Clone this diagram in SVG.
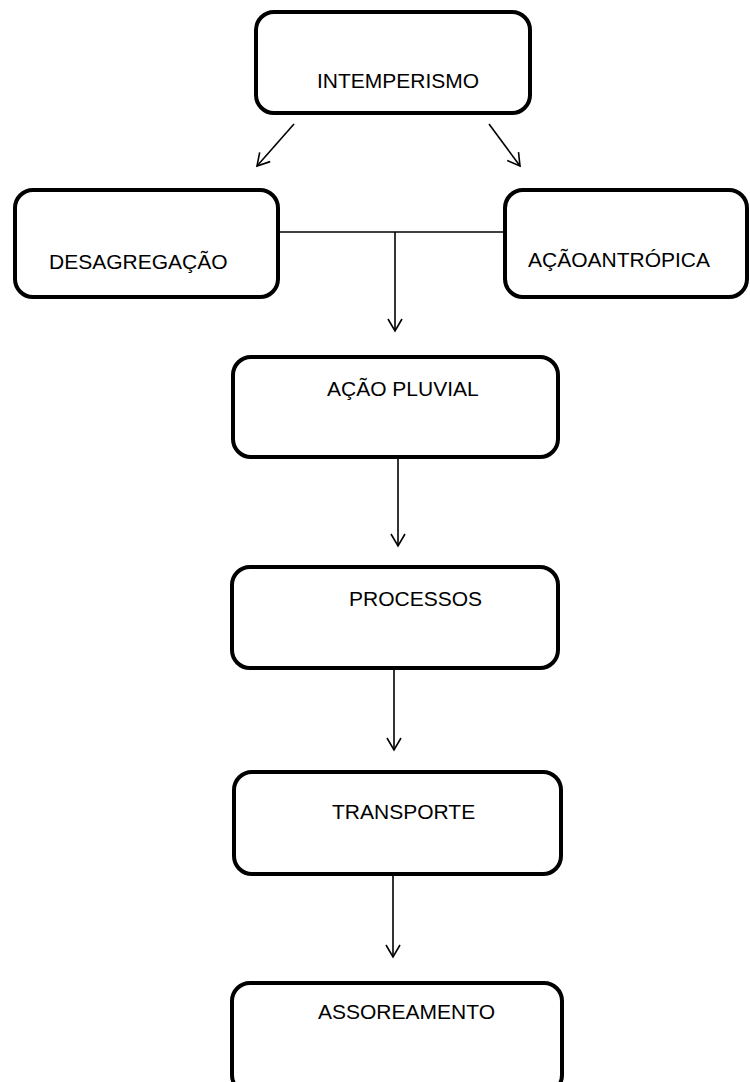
<svg xmlns="http://www.w3.org/2000/svg" width="750" height="1082" viewBox="0 0 750 1082">
<style>
.box{fill:#fff;stroke:#000;stroke-width:4}
.lbl{font-family:"Liberation Sans",Arial,sans-serif;font-size:21px;fill:#000}
.con{fill:none;stroke:#000;stroke-width:1.6}
</style>
<defs>
<marker id="arr" viewBox="-14 -8 16 16" markerWidth="16" markerHeight="16" refX="0" refY="0" orient="auto" markerUnits="userSpaceOnUse">
<path d="M-12,-7 L0,0 L-12,7" fill="none" stroke="#000" stroke-width="1.6"/>
</marker>
</defs>
<g id="connectors">
<line class="con" x1="294" y1="124" x2="257" y2="166" marker-end="url(#arr)"/>
<line class="con" x1="489" y1="124" x2="520" y2="166" marker-end="url(#arr)"/>
<line class="con" x1="278" y1="232" x2="505" y2="232"/>
<line class="con" x1="395" y1="232" x2="395" y2="331" marker-end="url(#arr)"/>
<line class="con" x1="398" y1="459" x2="398" y2="546" marker-end="url(#arr)"/>
<line class="con" x1="394" y1="670" x2="394" y2="750" marker-end="url(#arr)"/>
<line class="con" x1="393" y1="876" x2="393" y2="957" marker-end="url(#arr)"/>
</g>
<g id="intemperismo">
<rect class="box" x="256" y="12" width="274" height="101" rx="18"/>
<text class="lbl" x="317" y="88">INTEMPERISMO</text>
</g>
<g id="desagregacao">
<rect class="box" x="15" y="190" width="263" height="107" rx="18"/>
<text class="lbl" x="49" y="269">DESAGREGAÇÃO</text>
</g>
<g id="acaoantropica">
<rect class="box" x="505" y="190" width="242" height="107" rx="18"/>
<text class="lbl" x="528" y="267">AÇÃOANTRÓPICA</text>
</g>
<g id="acaopluvial">
<rect class="box" x="233" y="357" width="325" height="100" rx="18"/>
<text class="lbl" x="327" y="396">AÇÃO PLUVIAL</text>
</g>
<g id="processos">
<rect class="box" x="232" y="567" width="326" height="101" rx="18"/>
<text class="lbl" x="349" y="606">PROCESSOS</text>
</g>
<g id="transporte">
<rect class="box" x="234" y="772" width="327" height="102" rx="18"/>
<text class="lbl" x="332" y="819">TRANSPORTE</text>
</g>
<g id="assoreamento">
<rect class="box" x="232" y="983" width="330" height="110" rx="18"/>
<text class="lbl" x="318" y="1019">ASSOREAMENTO</text>
</g>
</svg>
